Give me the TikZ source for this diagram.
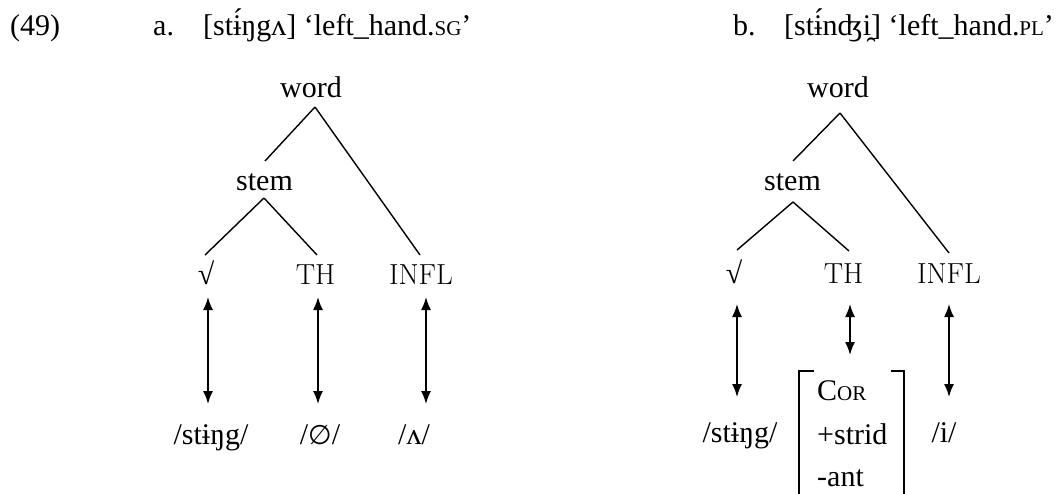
\documentclass[tikz,border=0pt]{standalone}
\usepackage{fontspec}
\newfontfamily\gar{Liberation Serif}
\newfontfamily\dvs{DejaVu Sans}
\newcommand\fsc[1]{{\fontsize{21}{25}\selectfont #1}}
\usetikzlibrary{arrows.meta,calc}
\tikzset{
  gar/.style={font=\gar\fontsize{30}{36}\selectfont, inner sep=0pt, anchor=base},
  cat/.style={font=\fontsize{29}{34}\selectfont, inner sep=0pt, anchor=base},
  branch/.style={line width=1.4pt},
  link/.style={line width=1.6pt, {Latex[length=13pt,width=10pt]}-{Latex[length=13pt,width=10pt]}},
  brk/.style={line width=1.7pt}
}
\begin{document}
\begin{tikzpicture}[x=1pt,y=-1pt]
\useasboundingbox (0,0) rectangle (1063,493);
% ---------- headers
\node[gar, anchor=base west] (num) at (10,35) {(49)};
\node[gar, anchor=base west] (la) at (153,35) {a.};
\node[gar, anchor=base west] (ga) at (203,35) {[stɨ́ŋgʌ] ‘left\_hand.\fsc{SG}’};
\node[gar, anchor=base west] (lb) at (733,35) {b.};
\node[gar, anchor=base west] (gb) at (784,35) {[stɨ́nʤi̯] ‘left\_hand.\fsc{PL}’};
% ---------- panel a
\node[gar] (wordA) at (311,97) {word};
\node[gar] (stemA) at (264.5,190) {stem};
\node[gar] (rootA) at (206,284) {√};
\node[cat] (thA) at (315.5,284) {TH};
\node[cat] (inflA) at (421,284) {INFL};
\node[gar] (sA) at (211,444) {/stɨŋg/};
\node[gar] (zA) at (320,444) {/{\dvs\fontsize{27}{32}\selectfont ∅}/};
\node[gar] (vA) at (414,444) {/ʌ/};
\draw[branch] ([shift={(4pt,-10pt)}]wordA.base) -- ([shift={(0.5pt,29pt)}]stemA.base);
\draw[branch] ([shift={(4pt,-10pt)}]wordA.base) -- ([shift={(-1pt,29pt)}]inflA.base);
\draw[branch] ([shift={(-0.5pt,-8pt)}]stemA.base) -- ([shift={(-1pt,29pt)}]rootA.base);
\draw[branch] ([shift={(-0.5pt,-8pt)}]stemA.base) -- ([shift={(1.5pt,29pt)}]thA.base);
\draw[link] ($(rootA.base)+(2pt,-13pt)$) -- ($(rootA.base |- sA.base)+(2pt,40pt)$);
\draw[link] ($(thA.base)+(2.5pt,-13pt)$) -- ($(thA.base |- zA.base)+(2.5pt,40pt)$);
\draw[link] ($(inflA.base)+(5pt,-13pt)$) -- ($(inflA.base |- vA.base)+(5pt,40pt)$);
% ---------- panel b
\node[gar] (wordB) at (838,97) {word};
\node[gar] (stemB) at (792.5,190) {stem};
\node[gar] (rootB) at (734,283) {√};
\node[cat] (thB) at (843.5,283) {TH};
\node[cat] (inflB) at (949,283) {INFL};
\node[gar] (sB) at (740,442) {/stɨŋg/};
\node[gar] (iB) at (944,442) {/i/};
\node[gar, anchor=base west] (corB) at (817,400) {C\fsc{OR}};
\node[gar, anchor=base west] (stridB) at (817,444) {+strid};
\node[gar, anchor=base west] (antB) at (817,486) {-ant};
\draw[branch] ([shift={(2pt,-16pt)}]wordB.base) -- ([shift={(0.5pt,29pt)}]stemB.base);
\draw[branch] ([shift={(2pt,-16pt)}]wordB.base) -- ([shift={(0pt,30pt)}]inflB.base);
\draw[branch] ([shift={(0.5pt,-12pt)}]stemB.base) -- ([shift={(3pt,33pt)}]rootB.base);
\draw[branch] ([shift={(0.5pt,-12pt)}]stemB.base) -- ([shift={(5.5pt,32pt)}]thB.base);
\draw[link] ($(rootB.base)+(3pt,-21pt)$) -- ($(rootB.base |- sB.base)+(3pt,45pt)$);
\draw[link] ($(thB.base)+(6.5pt,-21pt)$) -- ($(thB.base |- corB.base)+(6.5pt,45pt)$);
\draw[link] ($(inflB.base)+(0pt,-21pt)$) -- ($(inflB.base |- iB.base)+(0pt,45pt)$);
\draw[brk] (814,371) -- (799,371) -- (799,505);
\draw[brk] (891,371) -- (904,371) -- (904,505);
\end{tikzpicture}
\end{document}
